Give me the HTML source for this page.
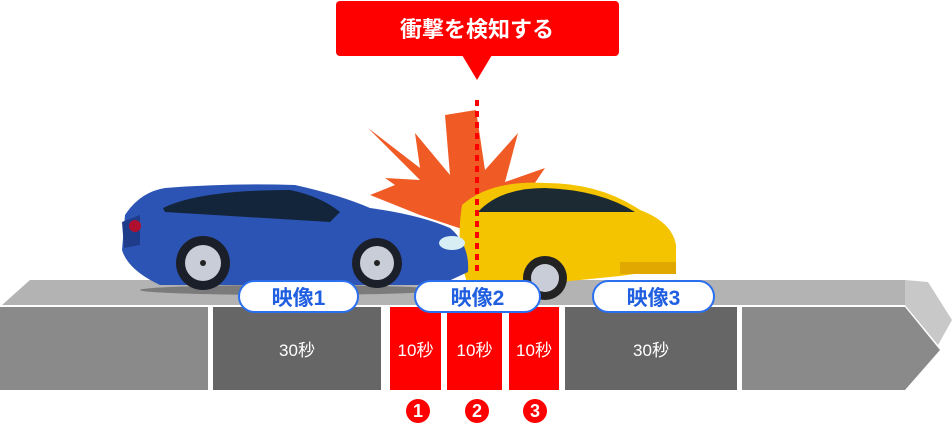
<!DOCTYPE html>
<html><head><meta charset="utf-8"><style>
body{margin:0;width:952px;height:424px;background:#fff;overflow:hidden;position:relative;font-family:"Liberation Sans","Noto Sans CJK JP",sans-serif}
.a{position:absolute}
.blk{position:absolute;top:307px;height:83px;color:#fff;font-size:17px;display:flex;align-items:center;justify-content:center}
.pill{position:absolute;top:280px;height:33px;background:#fff;border:2px solid #2a6ff0;border-radius:17px;color:#1f5fe0;font-size:21px;font-weight:bold;display:flex;align-items:center;justify-content:center;box-sizing:border-box}
.num{position:absolute;top:399px;width:24px;height:24px;border-radius:50%;background:#f00;color:#fff;font-weight:bold;font-size:18px;display:flex;align-items:center;justify-content:center}
</style></head><body>
<svg class="a" style="left:0;top:0" width="952" height="424">
<polygon points="2,305 30,280 905,280 905,305" fill="#b3b3b3"/>
<polygon points="905,280 928,282 952,320 938,345 905,305" fill="#c8c8c8"/>
<polygon points="742,307 905,307 940,350 905,390 742,390" fill="#8a8a8a"/>
<!-- explosion -->
<polygon points="368,128 420,168 415,133 450,175 445,115 476,110 485,170 518,133 505,182 545,168 520,205 480,235 420,215 370,195 395,185 385,178 420,180" fill="#f05a24"/>
<!-- shadow -->
<ellipse cx="290" cy="290" rx="150" ry="5" fill="#555" opacity=".6"/>
<!-- yellow car -->
<path d="M462,205 Q490,180 545,183 Q600,183 640,210 Q672,222 676,245 L676,268 L620,276 L560,282 L500,290 L468,285 Q455,250 462,205Z" fill="#f5c400"/>
<path d="M478,212 Q500,188 545,188 Q600,190 635,212 Z" fill="#1b2a33"/>
<circle cx="545" cy="278" r="22" fill="#222"/><circle cx="545" cy="278" r="14" fill="#c8cdd8"/>
<rect x="620" y="262" width="56" height="12" fill="#e0a800"/>
<!-- blue car -->
<path d="M125,215 Q140,192 165,188 Q230,183 295,185 Q340,195 370,208 Q420,215 450,228 Q470,245 468,272 L440,285 L160,285 Q128,270 122,250 Z" fill="#2c54b5"/>
<path d="M163,208 Q200,190 290,190 Q320,196 340,212 L330,222 L165,212 Z" fill="#13253a"/>
<path d="M122,222 L140,215 L140,245 L124,248Z" fill="#1e3c8a"/>
<circle cx="135" cy="226" r="6" fill="#b01030"/>
<ellipse cx="452" cy="243" rx="13" ry="7" fill="#d8eef5"/>
<circle cx="203" cy="263" r="27" fill="#1b1f2a"/><circle cx="203" cy="263" r="18" fill="#c8cdd8"/><circle cx="203" cy="263" r="3" fill="#222"/>
<circle cx="377" cy="263" r="25" fill="#1b1f2a"/><circle cx="377" cy="263" r="17" fill="#c8cdd8"/><circle cx="377" cy="263" r="3" fill="#222"/>
<line x1="477" y1="100" x2="477" y2="276" stroke="#f00" stroke-width="4" stroke-dasharray="6,5"/>
<!-- callout -->
<rect x="336" y="1" width="283" height="55" rx="4" fill="#f00"/>
<polygon points="462,55 492,55 477,80" fill="#f00"/>
<text x="477" y="37" text-anchor="middle" fill="#fff" font-size="22" font-weight="bold" font-family="Liberation Sans,Noto Sans CJK JP,sans-serif">衝撃を検知する</text>
</svg>
<div class="blk" style="left:0;width:208px;background:#8a8a8a"></div>
<div class="blk" style="left:213px;width:168px;background:#666">30秒</div>
<div class="blk" style="left:390px;width:51px;background:#f00">10秒</div>
<div class="blk" style="left:447px;width:55px;background:#f00">10秒</div>
<div class="blk" style="left:509px;width:50px;background:#f00">10秒</div>
<div class="blk" style="left:565px;width:172px;background:#666">30秒</div>
<div class="pill" style="left:238px;width:121px">映像1</div>
<div class="pill" style="left:414px;width:127px">映像2</div>
<div class="pill" style="left:592px;width:123px">映像3</div>
<div class="num" style="left:406px">1</div>
<div class="num" style="left:465px">2</div>
<div class="num" style="left:523px">3</div>
</body></html>
